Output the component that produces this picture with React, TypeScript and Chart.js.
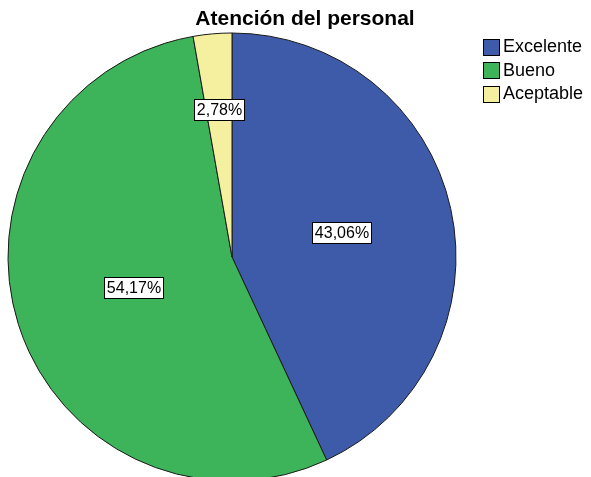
import React, { useEffect, useRef } from "react";
import { Chart, registerables } from "chart.js";

Chart.register(...registerables);

const chartTitle = "Atención del personal";
const categories = ["Excelente", "Bueno", "Aceptable"];
const percentages = [43.06, 54.17, 2.78];
const sliceColors = ["#3E5BA9", "#3DB35A", "#F4F0A0"];

const FONT = "'Liberation Sans', Arial, sans-serif";
const labelRadius = [0.5, 0.46, 0.66];

const overlayPlugin = {
  id: "spssOverlay",
  afterDraw(chart: any) {
    const ctx: CanvasRenderingContext2D = chart.ctx;
    const meta = chart.getDatasetMeta(0);
    ctx.save();

    // slice value labels
    ctx.font = `16px ${FONT}`;
    ctx.textAlign = "center";
    ctx.textBaseline = "middle";
    meta.data.forEach((arc: any, i: number) => {
      const p = arc.getProps(["x", "y", "startAngle", "endAngle", "outerRadius"], true);
      const mid = (p.startAngle + p.endAngle) / 2;
      const r = p.outerRadius * labelRadius[i];
      const lx = p.x + Math.cos(mid) * r;
      const ly = p.y + Math.sin(mid) * r;
      const text = percentages[i].toFixed(2).replace(".", ",") + "%";
      const w = Math.round(ctx.measureText(text).width + 5);
      const h = 21;
      const bx = Math.round(lx - w / 2) + 0.5;
      const by = Math.round(ly - h / 2) + 0.5;
      ctx.fillStyle = "#ffffff";
      ctx.fillRect(bx, by, w, h);
      ctx.strokeStyle = "#000000";
      ctx.lineWidth = 1;
      ctx.strokeRect(bx, by, w, h);
      ctx.fillStyle = "#000000";
      ctx.fillText(text, bx + w / 2, by + h / 2 + 1);
    });

    // title
    ctx.font = `bold 21px ${FONT}`;
    ctx.fillStyle = "#000000";
    ctx.textAlign = "center";
    ctx.textBaseline = "alphabetic";
    ctx.fillText(chartTitle, 305, 25);

    // legend
    ctx.font = `18px ${FONT}`;
    ctx.textAlign = "left";
    ctx.textBaseline = "middle";
    categories.forEach((cat, i) => {
      const y = 46.5 + i * 23.5;
      const sx = 483.5;
      const sy = Math.round(y - 8) + 0.5;
      ctx.fillStyle = sliceColors[i];
      ctx.fillRect(sx, sy, 16, 16);
      ctx.strokeStyle = "#000000";
      ctx.lineWidth = 1;
      ctx.strokeRect(sx, sy, 16, 16);
      ctx.fillStyle = "#000000";
      ctx.fillText(cat, 503, y + 1);
    });

    ctx.restore();
  },
};

export default function App() {
  const canvasRef = useRef<HTMLCanvasElement | null>(null);

  useEffect(() => {
    document.body.style.margin = "0";
    const canvas = canvasRef.current;
    if (!canvas) return;
    const chart = new Chart(canvas, {
      type: "pie",
      data: {
        labels: categories,
        datasets: [
          {
            data: percentages,
            backgroundColor: sliceColors,
            borderColor: "#1a1a1a",
            borderWidth: 1,
            clip: false as any,
          },
        ],
      },
      options: {
        responsive: false,
        animation: false,
        radius: 224,
        layout: { padding: { left: 0, right: 127, top: 37, bottom: 0 } },
        plugins: {
          legend: { display: false },
          title: { display: false },
          tooltip: { enabled: false },
        },
      } as any,
      plugins: [overlayPlugin],
    });
    return () => chart.destroy();
  }, []);

  return (
    <div style={{ width: 591, height: 477, background: "#ffffff" }}>
      <canvas ref={canvasRef} width={591} height={477} style={{ display: "block" }} />
    </div>
  );
}
